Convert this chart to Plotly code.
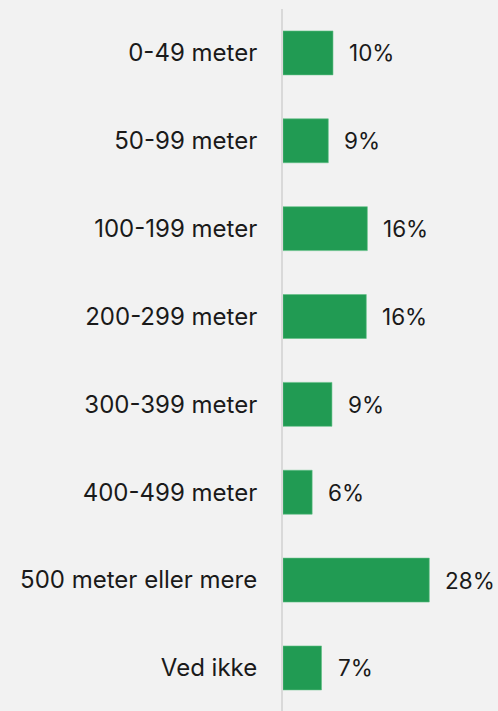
import plotly.graph_objects as go

categories = ["0-49 meter", "50-99 meter", "100-199 meter", "200-299 meter",
              "300-399 meter", "400-499 meter", "500 meter eller mere", "Ved ikke"]
values = [9.6, 8.7, 16.2, 16.0, 9.4, 5.6, 28.1, 7.4]

BG = "#f2f2f2"
GREEN = "#219b53"
FONT = "Inter"

fig = go.Figure()
fig.add_trace(go.Bar(
    x=values, y=categories, orientation="h",
    marker=dict(color=GREEN, line=dict(color="#5fbf84", width=0.6)),
    width=0.5, hoverinfo="skip",
))
for c, v in zip(categories, values):
    fig.add_annotation(x=v, y=c, text=f"{round(v)}%", showarrow=False,
                       xanchor="left", yanchor="middle", xshift=14,
                       font=dict(family=FONT, size=22.5, color="#1a1a1a"))

fig.update_layout(
    width=498, height=711,
    margin=dict(l=283, r=0, t=9, b=0),
    paper_bgcolor=BG, plot_bgcolor=BG,
    showlegend=False,
    font=dict(family=FONT, size=24, color="#1a1a1a"),
    xaxis=dict(range=[0, 41.3], visible=False, fixedrange=True),
    yaxis=dict(type="category", categoryorder="array", categoryarray=categories,
               range=[7.49, -0.5], showline=True, linecolor="#d9d9d9", linewidth=2,
               showgrid=False, zeroline=False, ticks="", ticklabelstandoff=19,
               tickfont=dict(family=FONT, size=24, color="#1a1a1a")),
)
fig.write_html("out.html", config={"displayModeBar": False},
               post_script="document.body.style.margin='0';document.body.style.background='#f2f2f2';")
